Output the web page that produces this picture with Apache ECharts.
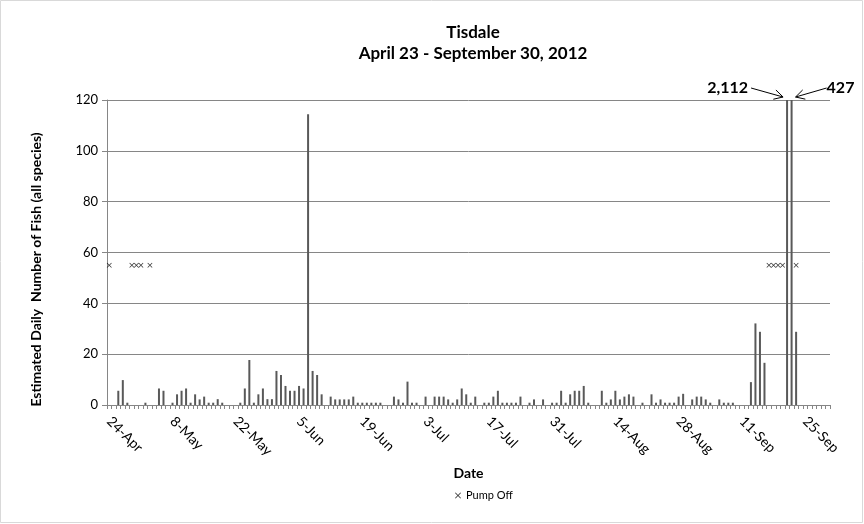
<!DOCTYPE html>
<html>
<head>
<meta charset="utf-8">
<script src="https://cdn.jsdelivr.net/npm/echarts@6/dist/echarts.min.js"></script>
<style>
  html, body { margin: 0; padding: 0; background: #fff; }
  #chart { width: 864px; height: 524px; }
</style>
</head>
<body>
<div id="chart"></div>
<script>
// Daily categories, 24-Apr to 30-Sep 2012
const monthNames = ["Jan","Feb","Mar","Apr","May","Jun","Jul","Aug","Sep","Oct","Nov","Dec"];
const fishDates = [];
for (let d = new Date(2012, 3, 24); d <= new Date(2012, 8, 30); d.setDate(d.getDate() + 1)) {
  fishDates.push(d.getDate() + "-" + monthNames[d.getMonth()]);
}

// Estimated daily number of fish (all species), one value per day
const dailyFish = [
  0, 0, 5.6, 9.8, 0.9, 0, 0, 0, 0.9, 0,
  0, 6.5, 5.6, 0, 0.9, 4.2, 5.6, 6.5, 0.9, 4.2,
  2.2, 3.3, 0.9, 0.9, 2.3, 0.9, 0, 0, 0, 0.9,
  6.5, 17.7, 0.9, 4.2, 6.5, 2.3, 2.3, 13.4, 11.8, 7.5,
  5.6, 5.6, 7.5, 6.5, 114.4, 13.4, 11.8, 4.2, 0, 3.3,
  2.2, 2.2, 2.2, 2.2, 3.3, 0.9, 0.9, 0.9, 0.9, 0.9,
  0.9, 0, 0, 3.3, 2.2, 0.9, 9.2, 0.9, 0.9, 0,
  3.3, 0, 3.3, 3.3, 3.3, 2.2, 0.9, 2.2, 6.5, 4.2,
  0.9, 3.3, 0, 0.9, 0.9, 3.3, 5.6, 0.9, 0.9, 0.9,
  0.9, 3.3, 0, 0.9, 2.2, 0, 2.2, 0, 0.9, 0.9,
  5.6, 0.9, 4.2, 5.6, 5.6, 7.5, 0.9, 0, 0, 5.6,
  0.9, 2.2, 5.6, 2.2, 3.3, 4.2, 3.3, 0, 0.9, 0,
  4.2, 0.9, 2.2, 0.9, 0.9, 0.9, 3.3, 4.4, 0, 2.2,
  3.3, 3.3, 2.2, 0.9, 0, 2.2, 0.9, 0.9, 0.9, 0,
  0, 0, 9.0, 32.1, 28.8, 16.6, 0, 0, 0, 0,
  2112, 427, 28.8, 0, 0, 0, 0, 0, 0, 0
];

// Days when the pump was off, drawn at a fixed level
const pumpOffDates = ["24-Apr", "29-Apr", "30-Apr", "1-May", "3-May",
                      "17-Sep", "18-Sep", "19-Sep", "20-Sep", "23-Sep"];
const pumpOffLevel = 55;

// Off-scale values called out above the plot
const calloutDates = ["21-Sep", "22-Sep"];
const calloutLabels = ["2,112", "427"];

const yTicks = { min: 0, max: 120, interval: 20 };

const FONT = "Lato, 'Open Sans', sans-serif";
const GREY = "#868686";
const xMark = "path://M0,1 L1,0 L5,4 L9,0 L10,1 L6,5 L10,9 L9,10 L5,6 L1,10 L0,9 L4,5 Z";

const chart = echarts.init(document.getElementById("chart"));

const option = {
  animation: false,
  textStyle: { fontFamily: FONT },
  title: {
    text: "Tisdale\nApril 23 - September 30, 2012",
    left: 468,
    textAlign: "center",
    top: 17,
    textStyle: { fontSize: 17, fontWeight: "bold", color: "#000", lineHeight: 21, fontFamily: FONT }
  },
  legend: {
    data: ["Pump Off"],
    top: 485,
    left: 450,
    itemWidth: 6,
    itemHeight: 6,
    itemGap: 6,
    textStyle: { fontSize: 11, color: "#000", fontFamily: FONT }
  },
  grid: { left: 107, right: 34, top: 100, bottom: 119 },
  xAxis: {
    type: "category",
    data: fishDates,
    boundaryGap: true,
    name: "Date",
    nameLocation: "middle",
    nameGap: 61,
    nameTextStyle: { fontSize: 14, fontWeight: "bold", color: "#000", fontFamily: FONT },
    axisLine: { lineStyle: { color: GREY, width: 1 } },
    axisTick: { show: true, interval: 0, length: 4, lineStyle: { color: GREY } },
    axisLabel: {
      interval: (i) => i % 14 === 0,
      rotate: -45,
      fontSize: 14,
      color: "#000",
      margin: 14,
      fontFamily: FONT
    },
    splitLine: { show: false }
  },
  yAxis: {
    type: "value",
    min: yTicks.min,
    max: yTicks.max,
    interval: yTicks.interval,
    name: "Estimated Daily  Number of Fish (all species)",
    nameLocation: "middle",
    nameRotate: 90,
    nameGap: 64,
    nameTextStyle: {
      fontSize: 14, fontWeight: "bold", color: "#000", fontFamily: FONT,
      padding: [0, 34, 0, 0]
    },
    axisLine: { show: true, lineStyle: { color: GREY, width: 1 } },
    axisTick: { show: true, length: 5, lineStyle: { color: GREY } },
    axisLabel: { fontSize: 13, color: "#000", margin: 9, fontFamily: FONT },
    splitLine: { show: true, lineStyle: { color: GREY, width: 1 } }
  },
  series: [
    {
      name: "Fish",
      type: "bar",
      data: dailyFish,
      barWidth: 2,
      clip: true,
      itemStyle: { color: "#595959" }
    },
    {
      name: "Pump Off",
      type: "scatter",
      data: pumpOffDates.map((d) => [d, pumpOffLevel]),
      symbol: xMark,
      symbolSize: 5,
      itemStyle: { color: "#000" },
      z: 5
    }
  ]
};

chart.setOption(option);

// Callout labels with arrows for the two bars that run off the top of the scale
const graphics = [];
calloutDates.forEach((d, k) => {
  const top = chart.convertToPixel({ gridIndex: 0 }, [d, yTicks.max]);
  const left = k === 0;
  const tipX = top[0] + (left ? -4 : 4);
  const tipY = top[1] - 3;
  const tailX = top[0] + (left ? -36 : 35);
  const tailY = top[1] - 12;
  graphics.push({
    type: "text",
    style: {
      text: calloutLabels[k],
      x: left ? tailX - 3 : tailX,
      y: tailY,
      align: left ? "right" : "left",
      verticalAlign: "middle",
      font: "bold 16px " + FONT,
      fill: "#000"
    }
  });
  graphics.push({
    type: "line",
    shape: { x1: tailX, y1: tailY, x2: tipX, y2: tipY },
    style: { stroke: "#000", lineWidth: 1 }
  });
  const ang = Math.atan2(tipY - tailY, tipX - tailX);
  const len = 10, spread = 0.5;
  graphics.push({
    type: "polyline",
    shape: {
      points: [
        [tipX - len * Math.cos(ang - spread), tipY - len * Math.sin(ang - spread)],
        [tipX, tipY],
        [tipX - len * Math.cos(ang + spread), tipY - len * Math.sin(ang + spread)]
      ]
    },
    style: { stroke: "#000", lineWidth: 1, fill: null }
  });
});
graphics.push({
  type: "rect",
  shape: { x: 0.5, y: 0.5, width: 862, height: 522 },
  style: { stroke: "#d9d9d9", fill: null, lineWidth: 1 },
  silent: true
});
chart.setOption({ graphic: graphics });
</script>
</body>
</html>
